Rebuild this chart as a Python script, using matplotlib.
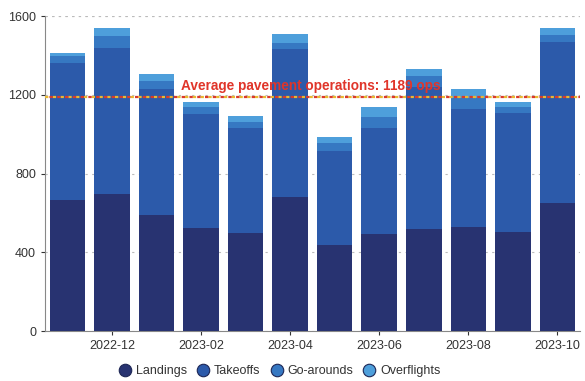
import numpy as np
import matplotlib
matplotlib.use('Agg')
import matplotlib.pyplot as plt
from matplotlib.lines import Line2D

plt.rcParams['font.family'] = ['Liberation Sans', 'DejaVu Sans']

# monthly operations
months = ['2022-11', '2022-12', '2023-01', '2023-02', '2023-03', '2023-04',
          '2023-05', '2023-06', '2023-07', '2023-08', '2023-09', '2023-10']
totals = [1414, 1541, 1308, 1161, 1090, 1507, 987, 1136, 1332, 1230, 1161, 1541]
landings = [667, 697, 587, 523, 500, 680, 435, 491, 520, 528, 503, 652]
go_arounds = [34, 59, 42, 35, 30, 33, 40, 55, 55, 55, 30, 40]
overflights = [17, 42, 37, 25, 30, 42, 30, 50, 35, 45, 25, 35]
takeoffs = [t - l - g - o for t, l, g, o in zip(totals, landings, go_arounds, overflights)]
avg_ops = 1189

series = [('Landings', landings, '#283371'),
          ('Takeoffs', takeoffs, '#2c5aaa'),
          ('Go-arounds', go_arounds, '#3678c2'),
          ('Overflights', overflights, '#4e9fdb')]

fig = plt.figure(figsize=(5.85, 3.81), dpi=100)
ax = fig.add_axes([0.077, 0.131, 0.914, 0.827])

x = np.arange(len(months))
bottom = np.zeros(len(months))
for name, vals, col in series:
    ax.bar(x, vals, width=0.8, bottom=bottom, color=col, zorder=3)
    bottom += np.array(vals)

ax.set_xlim(-0.5, 11.5)
ax.set_ylim(0, 1600)
ax.set_yticks([0, 400, 800, 1200, 1600])
ax.set_xticks(x[1::2])
ax.set_xticklabels(months[1::2])
ax.tick_params(labelsize=9, colors='#333333', length=3)
ax.yaxis.grid(True, linestyle=(0, (2, 4)), color='#bbbbbb', linewidth=0.8, zorder=0)
ax.axhline(1600, linestyle=(0, (2, 4)), color='#bbbbbb', linewidth=0.8, zorder=0)
for s in ['top', 'right']:
    ax.spines[s].set_visible(False)
for s in ['left', 'bottom']:
    ax.spines[s].set_color('#888888')

# average line
ax.axhline(avg_ops, color='#e8b830', linestyle=(0, (1.5, 2)), linewidth=1.6, zorder=4)
ax.axhline(avg_ops, color='#d93a2b', linestyle=(1.5, (1.5, 2)), linewidth=1.6, zorder=4)
ax.text(2.55, avg_ops + 22, 'Average pavement operations: %d ops' % avg_ops,
        color='#e0352a', fontsize=9.8, fontweight='bold', ha='left', va='bottom', zorder=5)

handles = [Line2D([], [], marker='o', linestyle='', markersize=9, markerfacecolor=c,
                  markeredgecolor='#1d2655', markeredgewidth=0.8) for _, _, c in series]
fig.legend(handles, [n for n, _, _ in series], loc='lower center', ncol=4,
           bbox_to_anchor=(0.477, -0.02), frameon=False, fontsize=9,
           handletextpad=0.25, columnspacing=0.7, handlelength=1.2, labelcolor='#333333')

fig.savefig('out.png', dpi=100)
